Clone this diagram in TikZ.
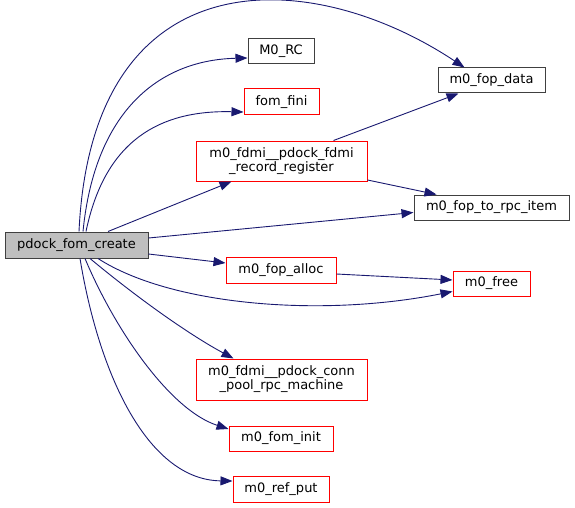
\documentclass[tikz,border=0pt]{standalone}
\usepackage{fontspec}
\setmainfont{DejaVu Sans}
\usetikzlibrary{arrows.meta, positioning}
\definecolor{EdgeBlue}{RGB}{25,25,112}
\definecolor{BoxGray}{RGB}{64,64,64}
\definecolor{RootFill}{RGB}{191,191,191}

\begin{document}
\begin{tikzpicture}[x=1pt, y=-1pt,
  fn/.style={draw=BoxGray, line width=1pt, inner sep=0pt, align=center,
    font=\fontsize{13}{14}\selectfont},
  trunc/.style={fn, draw=red},
  root/.style={fn, fill=RootFill},
  call/.style={EdgeBlue, line width=0.9pt, -{Triangle[length=12pt,width=9pt]}}
]
\useasboundingbox (0,0) rectangle (575,508);

% caller
\node[root, minimum width=143, minimum height=26] (create) at (76.5,245) {pdock\_fom\_create};

% middle column
\node[fn, minimum width=66, minimum height=25] (rc) at (281,51.5) {M0\_RC};
\node[trunc, minimum width=75, minimum height=26] (fini) at (281.5,102) {fom\_fini};
\node[trunc, minimum width=171, minimum height=40] (recreg) at (281.5,161)
  {m0\_fdmi\_\_pdock\_fdmi\\\_record\_register};
\node[trunc, minimum width=110, minimum height=26] (alloc) at (281,270) {m0\_fop\_alloc};
\node[trunc, minimum width=171, minimum height=41] (connpool) at (281.5,379.5)
  {m0\_fdmi\_\_pdock\_conn\\\_pool\_rpc\_machine};
\node[trunc, minimum width=104, minimum height=25] (fominit) at (281,438.5) {m0\_fom\_init};
\node[trunc, minimum width=96, minimum height=26] (refput) at (281,489) {m0\_ref\_put};

% right column
\node[fn, minimum width=107, minimum height=25] (fopdata) at (491.5,80.5) {m0\_fop\_data};
\node[fn, minimum width=155, minimum height=25] (torpc) at (491.5,207.5) {m0\_fop\_to\_rpc\_item};
\node[trunc, minimum width=77, minimum height=25] (free) at (491.5,283.5) {m0\_free};

% calls
\draw[call] ([xshift=2.5pt]create.north) .. controls (92,-45) and (310,-35) .. ([xshift=-27pt]fopdata.north);
\draw[call] ([xshift=6.5pt]create.north) .. controls (95,110) and (160,60) .. ([yshift=-6.5pt]rc.west);
\draw[call] ([xshift=9.5pt]create.north) .. controls (105,140) and (160,110) .. ([yshift=-10pt]fini.west);
\draw[call] ([xshift=31.5pt]create.north) -- ([xshift=-50pt]recreg.south);
\draw[call] ([yshift=7pt]create.east) -- ([yshift=-5pt]torpc.west);
\draw[call] ([xshift=52pt]recreg.north) -- ([xshift=-33pt]fopdata.south);
\draw[call] ([yshift=-19pt]recreg.east) -- ([xshift=-55pt]torpc.north);
\draw[call] ([yshift=-9pt]create.east) -- ([yshift=7pt]alloc.west);
\draw[call] ([yshift=-4pt]alloc.east) -- ([yshift=3.5pt]free.west);
\draw[call] ([xshift=21.5pt]create.south) .. controls (170,305) and (320,318) .. ([yshift=-8pt]free.west);
\draw[call] ([xshift=13.5pt]create.south) .. controls (140,300) and (190,335) .. ([xshift=-48pt]connpool.north);
\draw[call] ([xshift=8.5pt]create.south) .. controls (115,330) and (170,410) .. ([yshift=9.5pt]fominit.west);
\draw[call] ([xshift=3.5pt]create.south) .. controls (100,380) and (150,480) .. ([yshift=8pt]refput.west);
\end{tikzpicture}
\end{document}
